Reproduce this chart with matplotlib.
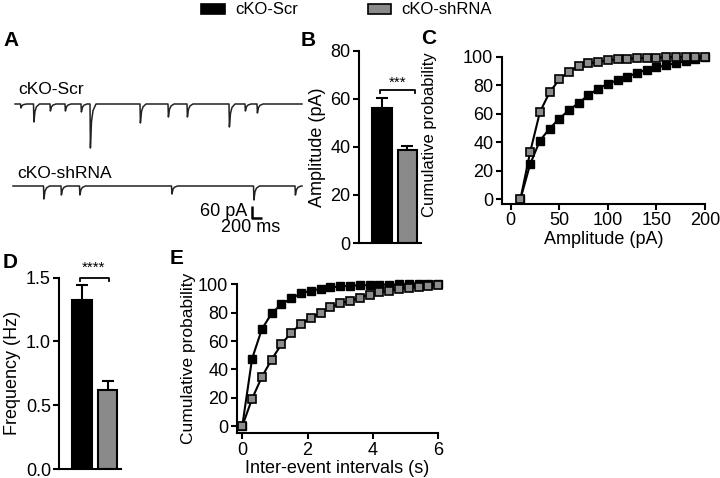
import matplotlib
matplotlib.use("Agg")
import matplotlib.pyplot as plt
from matplotlib.patches import Patch
import numpy as np

plt.rcParams['font.family'] = ['Liberation Sans', 'DejaVu Sans']
plt.rcParams['font.size'] = 13

# ---------------- data ----------------
groups = ["cKO-Scr", "cKO-shRNA"]
bar_colors = ["#000000", "#8a8a8a"]

# Panel A: example traces (event time in s, amplitude in pA)
scr_event_t = [0.11, 0.37, 0.70, 1.00, 1.32, 1.50, 2.50, 3.06, 3.44, 4.28, 4.60, 4.84]
scr_event_amp = [20, 90, 35, 35, 40, 220, 95, 65, 65, 115, 35, 45]
sh_event_t = [0.57, 0.92, 1.29, 3.13, 4.77, 5.60]
sh_event_amp = [65, 45, 45, 40, 70, 45]
trace_start = [0.0, -0.04]
trace_end = [5.74, 5.74]

# Panel B: amplitude (pA)
amp_mean = [56.0, 38.7]
amp_err = [4.5, 1.5]

# Panel C: cumulative amplitude distribution
amp_bins = [10, 20, 30, 40, 50, 60, 70, 80, 90, 100, 110, 120, 130, 140, 150, 160, 170, 180, 190, 200]
amp_cum_scr = [0, 24.5, 41, 49.5, 56.5, 62.5, 67.5, 73, 77.5, 81, 83.5, 86, 88.5, 91, 92.5, 94, 95.5, 96.8, 98.2, 99.5]
amp_cum_sh = [0, 33, 61, 75, 84, 89.5, 93.5, 95.3, 96.5, 97.5, 98.2, 98.6, 99, 99.2, 99.4, 99.6, 99.7, 99.8, 99.9, 100]

# Panel D: frequency (Hz)
freq_mean = [1.32, 0.615]
freq_err = [0.125, 0.078]

# Panel E: cumulative inter-event interval distribution
iei_bins = [0, 0.3, 0.6, 0.9, 1.2, 1.5, 1.8, 2.1, 2.4, 2.7, 3.0, 3.3, 3.6, 3.9, 4.2, 4.5, 4.8, 5.1, 5.4, 5.7, 6.0]
iei_cum_scr = [0, 47.5, 68.4, 79.5, 86, 90, 93.6, 95.5, 96.8, 97.8, 98.5, 99, 99.3, 99.5, 99.7, 99.8, 99.9, 99.9, 100, 100, 100]
iei_cum_sh = [0, 19.3, 34.7, 47, 57.8, 66, 72, 76, 80, 83.7, 86.6, 88.4, 90.6, 92.8, 94.3, 95.5, 96.6, 97.5, 98.3, 99, 99.8]

# ---------------- figure ----------------
W, H = 720, 478
fig = plt.figure(figsize=(7.2, 4.78), dpi=100)


def px_axes(l, t, r, b):
    return fig.add_axes([l / W, 1 - b / H, (r - l) / W, (b - t) / H])


def style_axes(ax):
    for s in ["top", "right"]:
        ax.spines[s].set_visible(False)
    for s in ["left", "bottom"]:
        ax.spines[s].set_linewidth(1.5)
    ax.tick_params(width=1.5, length=4, labelsize=13, pad=2)


LW = 1.5

# ---- Panel A ----
axA = px_axes(0, 60, 310, 240)
axA.set_xlim(-0.30, 5.90)
axA.set_ylim(-680, 220)
axA.axis("off")
kern_t = [0, 0.008, 0.03, 0.06, 0.12]
kern_a = [0, -1.0, -0.4, -0.15, 0]


def build_trace(t0, t1, ev_t, ev_a, offset):
    xs, ys = [t0], [offset]
    for t, a in zip(ev_t, ev_a):
        for dt, ka in zip(kern_t, kern_a):
            xs.append(t + dt)
            ys.append(offset + ka * a)
    xs.append(t1)
    ys.append(offset)
    return xs, ys


x1, y1 = build_trace(trace_start[0], trace_end[0], scr_event_t, scr_event_amp, 0)
x2, y2 = build_trace(trace_start[1], trace_end[1], sh_event_t, sh_event_amp, -410)
axA.plot(x1, y1, color="#222222", lw=1.1)
axA.plot(x2, y2, color="#222222", lw=1.1)
axA.text(0.06, 70, "cKO-Scr", fontsize=12.5, ha="left", va="center")
axA.text(0.04, -350, "cKO-shRNA", fontsize=12.5, ha="left", va="center")
# scale bar: 60 pA, 200 ms
axA.plot([4.74, 4.74, 4.94], [-510, -570, -570], color="black", lw=1.8, solid_capstyle="butt")
axA.text(4.64, -537, "60 pA", fontsize=13, ha="right", va="center")
axA.text(4.72, -617, "200 ms", fontsize=13, ha="center", va="center")


def bar_panel(ax, means, errs, ylim, yticks, fmt):
    style_axes(ax)
    x = np.arange(len(means))
    ax.bar(x, means, width=0.78, color=bar_colors, edgecolor="black", linewidth=LW, zorder=2)
    ax.errorbar(x, means, yerr=[[0] * len(errs), errs], fmt="none", ecolor="black",
                elinewidth=LW, capsize=4, capthick=LW, zorder=1)
    ax.set_xlim(-0.902, 1.53)
    ax.set_ylim(*ylim)
    ax.set_yticks(yticks)
    ax.set_yticklabels([fmt.format(v) for v in yticks])
    ax.set_xticks([])


# ---- Panel B ----
axB = px_axes(359, 50.7, 421, 243)
bar_panel(axB, amp_mean, amp_err, (0, 80), [0, 20, 40, 60, 80], "{:.0f}")
axB.set_ylabel("Amplitude (pA)", fontsize=13)
axB.yaxis.set_label_coords(-0.53, 0.5)
axB.plot([-0.08, -0.08, 1.29, 1.29], [62.2, 63.6, 63.6, 62.2], color="black", lw=1.3, clip_on=False)
axB.text(0.6, 66.5, "***", fontsize=11, ha="center", va="center")

# ---- Panel D ----
axD = px_axes(59.3, 277.5, 121, 469)
bar_panel(axD, freq_mean, freq_err, (0, 1.5), [0, 0.5, 1.0, 1.5], "{:.1f}")
axD.set_ylabel("Frequency (Hz)", fontsize=13)
axD.yaxis.set_label_coords(-0.62, 0.5)
axD.plot([-0.09, -0.09, 1.05, 1.05], [1.47, 1.50, 1.50, 1.47], color="black", lw=1.3, clip_on=False)
axD.text(0.46, 1.575, "****", fontsize=11, ha="center", va="center")


def cum_panel(ax, x, y_scr, y_sh, label_size):
    style_axes(ax)
    ax.plot(x, y_scr, color="black", lw=LW, marker="s", markersize=5.5,
            markerfacecolor="black", markeredgecolor="black", clip_on=False, zorder=3)
    ax.plot(x, y_sh, color="black", lw=LW, marker="s", markersize=5.5,
            markerfacecolor="#8c8c8c", markeredgecolor="black", markeredgewidth=1.2,
            clip_on=False, zorder=4)
    ax.set_yticks([0, 20, 40, 60, 80, 100])
    ax.set_ylabel("Cumulative probability", fontsize=label_size)


# ---- Panel C ----
axC = px_axes(501.7, 56.7, 705, 204)
cum_panel(axC, amp_bins, amp_cum_scr, amp_cum_sh, 12)
axC.set_xlim(-9.3, 200)
axC.set_ylim(-3.5, 100)
axC.set_xticks([0, 50, 100, 150, 200])
axC.set_xlabel("Amplitude (pA)", fontsize=13, labelpad=1)
axC.yaxis.set_label_coords(-0.318, 0.47)

# ---- Panel E ----
axE = px_axes(236.7, 284.3, 438.3, 433.3)
cum_panel(axE, iei_bins, iei_cum_scr, iei_cum_sh, 12.5)
axE.set_xlim(-0.17, 6)
axE.set_ylim(-5, 100)
axE.set_xticks([0, 2, 4, 6])
axE.set_xlabel("Inter-event intervals (s)", fontsize=13, labelpad=1)
axE.yaxis.set_label_coords(-0.202, 0.5)

# ---- panel letters ----
for letter, (px, py) in {"A": (3, 41), "B": (301, 41), "C": (421, 38),
                         "D": (3, 262), "E": (170, 259)}.items():
    fig.text(px / W, 1 - py / H, letter, fontsize=15, fontweight="bold", ha="left", va="center")

# ---- legend ----
handles = [Patch(facecolor=c, edgecolor="black", linewidth=1.2) for c in bar_colors]
fig.legend(handles, groups, loc="center", bbox_to_anchor=(346.5 / W, 1 - 10 / H),
           ncol=2, frameon=False, fontsize=12, handlelength=1.4, handleheight=0.55,
           handletextpad=0.6, columnspacing=4.2, borderaxespad=0, borderpad=0)

fig.savefig("out.png", dpi=100)
